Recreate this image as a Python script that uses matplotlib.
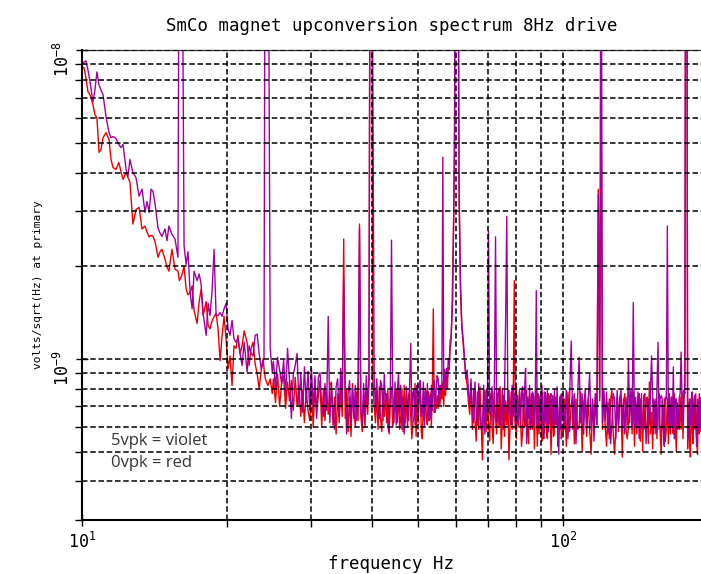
import matplotlib
matplotlib.use("Agg")
import matplotlib.pyplot as plt
from matplotlib.ticker import FixedLocator, FixedFormatter, NullFormatter

plt.rcParams['font.family'] = ['DejaVu Sans Mono']

# values, amplitude in units of 1e-10 V/sqrt(Hz)
# 700 = the line runs off the top of the axes

# 10 - 25 Hz
freq_a = [
    10.00, 10.10, 10.19, 10.29, 10.39, 10.54, 10.64, 10.74, 10.85, 10.95,
    11.06, 11.22, 11.38, 11.49, 11.60, 11.76, 11.93, 12.05, 12.17, 12.35,
    12.46, 12.58, 12.76, 12.95, 13.14, 13.33, 13.52, 13.65, 13.79, 13.92,
    14.05, 14.19, 14.39, 14.53, 14.66, 14.88, 15.02, 15.16, 15.38, 15.61,
    15.83, 15.94, 16.10, 16.30, 16.46, 16.61, 16.78, 16.94, 17.10, 17.35,
    17.52, 17.69, 17.86, 18.12, 18.29, 18.46, 18.63, 18.82, 19.00, 19.18,
    19.37, 19.55, 19.74, 19.93, 20.12, 20.31, 20.51, 20.70, 20.90, 21.10,
    21.31, 21.52, 21.73, 22.04, 22.25, 22.47, 22.68, 22.91, 23.13, 23.35,
    23.58, 23.81, 23.90, 24.05, 24.35, 24.62, 24.86,
]
red_a = [
    88.2, 87.5, 81.2, 73.2, 71.6, 66.5, 61.7, 60.3, 46.6, 47.6,
    52.0, 54.0, 51.3, 44.2, 41.6, 41.0, 43.2, 40.4, 38.1, 40.1,
    38.6, 37.3, 27.3, 30.4, 30.9, 26.3, 26.9, 25.7, 24.8, 25.1,
    24.9, 23.9, 21.3, 22.2, 22.6, 21.0, 19.8, 19.2, 22.6, 19.5,
    19.2, 17.9, 18.5, 19.9, 16.8, 16.1, 16.4, 17.2, 14.3, 13.0,
    15.3, 16.8, 13.8, 15.3, 12.8, 12.5, 13.2, 13.7, 14.0, 12.5,
    9.85, 11.8, 13.7, 11.6, 9.27, 10.2, 8.18, 11.0, 10.8, 11.9,
    10.4, 11.0, 12.3, 11.3, 9.50, 10.8, 11.3, 9.62, 8.92, 8.00,
    9.15, 10.0, 9.27, 8.60, 8.18, 8.60, 7.71,
]
violet_a = [
    89.5, 91.5, 92.2, 86.2, 78.8, 68.0, 74.3, 84.9, 77.1, 74.3,
    71.6, 60.8, 54.0, 52.0, 52.4, 51.7, 49.4, 48.3, 49.4, 41.0,
    38.9, 44.2, 40.1, 38.6, 33.6, 35.4, 29.8, 32.3, 29.8, 35.4,
    34.8, 31.6, 26.5, 25.5, 24.9, 26.3, 24.1, 26.9, 25.3, 24.4,
    21.3, 700, 700, 23.2, 20.2, 22.2, 16.4, 14.5, 19.2, 17.9,
    18.8, 17.4, 14.0, 11.9, 15.1, 13.8, 16.4, 22.6, 13.8, 13.8,
    14.1, 13.7, 14.5, 15.1, 12.5, 11.9, 13.3, 11.6, 11.3, 11.6,
    10.4, 9.50, 11.3, 9.07, 11.0, 10.4, 10.2, 11.9, 12.0, 10.4,
    9.27, 9.85, 10.0, 700, 700, 10.8, 9.07,
]

# 25 - 60 Hz
freq_b = [
    25.00, 25.25, 25.50, 25.75, 26.00, 26.25, 26.50, 26.75,
    27.00, 27.25, 27.50, 27.75, 28.00, 28.25, 28.50, 28.75,
    29.00, 29.25, 29.50, 29.75, 30.00, 30.25, 30.50, 30.75,
    31.00, 31.25, 31.50, 31.75, 32.00, 32.25, 32.50, 32.75,
    33.00, 33.25, 33.50, 33.75, 34.00, 34.25, 34.50, 34.75,
    35.00, 35.25, 35.50, 35.75, 36.00, 36.25, 36.50, 36.75,
    37.00, 37.25, 37.50, 37.75, 38.00, 38.25, 38.50, 38.75,
    39.00, 39.25, 39.50, 39.75, 40.00, 40.25, 40.50, 40.75,
    41.00, 41.25, 41.50, 41.75, 42.00, 42.25, 42.50, 42.75,
    43.00, 43.25, 43.50, 43.75, 44.00, 44.25, 44.50, 44.75,
    45.00, 45.25, 45.50, 45.75, 46.00, 46.25, 46.50, 46.75,
    47.00, 47.25, 47.50, 47.75, 48.00, 48.25, 48.50, 48.75,
    49.00, 49.25, 49.50, 49.75, 50.00, 50.25, 50.50, 50.75,
    51.00, 51.25, 51.50, 51.75, 52.00, 52.25, 52.50, 52.75,
    53.00, 53.25, 53.50, 53.75, 54.00, 54.25, 54.50, 54.75,
    55.00, 55.25, 55.50, 55.75, 56.00, 56.25, 56.50, 56.75,
    57.00, 57.25, 57.50, 57.75, 58.00, 58.25, 58.50, 58.75,
    59.00, 59.25, 59.50, 59.75,
]
red_b = [
    8.6, 7.2, 8.9, 7.0, 8.3, 8.8, 6.9, 8.4,
    7.3, 8.5, 6.8, 8.7, 7.0, 8.2, 6.5, 7.9,
    6.2, 7.9, 6.8, 6.3, 8.0, 6.0, 8.2, 6.7,
    7.6, 8.5, 6.0, 7.9, 6.3, 7.8, 6.6, 8.2,
    8.4, 6.1, 7.5, 5.7, 7.7, 6.2, 8.0, 6.5,
    24.4, 6.4, 7.9, 5.8, 7.5, 5.6, 8.3, 6.8,
    6.0, 7.8, 6.3, 27.3, 6.5, 5.8, 7.6, 6.0,
    8.0, 6.6, 8.3, 700, 700, 8.5, 7.0, 6.2,
    7.8, 5.9, 8.1, 6.4, 5.8, 7.9, 6.5, 7.7,
    6.2, 7.9, 5.7, 7.8, 8.1, 6.0, 6.4, 7.6,
    7.9, 6.2, 8.0, 5.9, 6.5, 8.0, 5.8, 8.2,
    6.2, 7.7, 6.0, 7.6, 7.9, 6.5, 5.5, 6.2,
    6.5, 8.3, 5.6, 7.6, 6.2, 7.8, 7.8, 5.8,
    5.5, 7.5, 6.3, 8.0, 6.4, 6.1, 7.8, 6.3,
    7.7, 6.0, 8.0, 14.5, 6.7, 7.3, 6.9, 7.6,
    6.9, 7.6, 7.1, 7.9, 7.4, 8.4, 7.0, 8.6,
    7.6, 8.9, 8.0, 9.4, 9.2, 10.8, 11.3, 14.0,
    19.5, 28.0, 47.6, 700,
]
violet_b = [
    9.8, 8.0, 10.1, 9.2, 8.3, 9.9, 7.6, 10.8,
    8.5, 6.4, 8.9, 9.5, 10.4, 7.1, 9.0, 6.7,
    9.4, 7.2, 9.1, 6.8, 9.3, 6.9, 8.8, 6.4,
    8.7, 9.0, 7.0, 6.5, 8.3, 6.8, 13.7, 6.2,
    8.2, 6.6, 5.9, 8.1, 8.6, 6.5, 9.3, 7.2,
    18.1, 7.9, 5.7, 7.7, 8.5, 6.1, 8.0, 6.4,
    8.2, 6.3, 8.7, 26.3, 6.9, 6.1, 8.3, 6.6,
    8.8, 7.1, 8.6, 700, 700, 72.6, 8.6, 6.8,
    8.6, 6.5, 6.4, 8.5, 8.2, 6.3, 8.9, 7.3,
    7.7, 6.0, 5.8, 7.5, 24.2, 7.9, 6.2, 8.4,
    6.1, 7.8, 9.0, 6.7, 8.2, 5.9, 7.5, 5.7,
    6.4, 8.1, 7.0, 6.3, 8.4, 11.2, 6.2, 7.8,
    7.9, 6.1, 7.7, 8.2, 6.4, 8.1, 8.5, 6.5,
    6.7, 8.4, 6.0, 7.9, 7.0, 8.3, 6.3, 7.6,
    6.4, 8.2, 6.8, 7.9, 8.5, 6.7, 8.1, 8.8,
    8.6, 7.1, 8.2, 7.7, 8.3, 44.9, 7.9, 9.2,
    8.0, 9.3, 8.7, 10.0, 9.6, 11.5, 11.6, 13.5,
    15.6, 30.0, 55.2, 700,
]

# 60 - 100 Hz
freq_c = [
    60.0, 60.4, 60.8, 61.2, 61.6, 62.0, 62.4, 62.8, 63.2, 63.6,
    64.0, 64.4, 64.8, 65.2, 65.6, 66.0, 66.4, 66.8, 67.2, 67.6,
    68.0, 68.4, 68.8, 69.2, 69.6, 70.0, 70.4, 70.8, 71.2, 71.6,
    72.0, 72.4, 72.8, 73.2, 73.6, 74.0, 74.4, 74.8, 75.2, 75.6,
    76.0, 76.4, 76.8, 77.2, 77.6, 78.0, 78.4, 78.8, 79.2, 79.6,
    80.0, 80.4, 80.8, 81.2, 81.6, 82.0, 82.4, 82.8, 83.2, 83.6,
    84.0, 84.4, 84.8, 85.2, 85.6, 86.0, 86.4, 86.8, 87.2, 87.6,
    88.0, 88.4, 88.8, 89.2, 89.6, 90.0, 90.4, 90.8, 91.2, 91.6,
    92.0, 92.4, 92.8, 93.2, 93.6, 94.0, 94.4, 94.8, 95.2, 95.6,
    96.0, 96.4, 96.8, 97.2, 97.6, 98.0, 98.4, 98.8, 99.2, 99.6,
]
red_c = [
    700, 700, 32.8, 16.8, 12.6, 11.2, 9.8, 8.9, 8.2, 7.2,
    6.6, 8.3, 5.9, 7.9, 6.4, 5.4, 7.8, 5.9, 8.1, 6.2,
    4.7, 7.3, 7.9, 5.8, 7.6, 6.2, 5.4, 7.7, 6.0, 5.3,
    7.8, 6.4, 5.7, 7.4, 6.0, 8.1, 5.1, 6.3, 7.6, 5.6,
    7.3, 6.1, 7.7, 4.7, 6.1, 7.8, 5.9, 7.5, 17.9, 6.3,
    5.5, 7.6, 6.0, 7.9, 6.4, 5.2, 5.8, 7.7, 6.0, 6.2,
    7.9, 5.8, 5.3, 7.6, 6.1, 7.7, 5.9, 7.4, 5.1, 7.5,
    7.9, 5.2, 7.3, 5.7, 7.6, 6.1, 5.4, 7.8, 5.7, 6.2,
    7.4, 5.8, 5.5, 7.7, 6.2, 7.6, 4.9, 6.0, 7.4, 5.6,
    5.9, 7.5, 6.1, 7.4, 5.2, 5.8, 7.2, 7.6, 5.5, 6.1,
]
violet_c = [
    700, 700, 38.1, 18.1, 13.0, 11.6, 10.1, 8.6, 9.2, 7.9,
    7.0, 8.6, 6.5, 6.2, 8.4, 6.8, 6.1, 8.3, 6.6, 5.9,
    5.9, 8.2, 5.7, 7.9, 6.3, 25.9, 6.6, 7.4, 8.1, 6.0,
    8.2, 24.8, 6.2, 7.7, 7.9, 6.1, 6.4, 8.0, 5.9, 7.8,
    13.8, 28.9, 6.6, 7.9, 6.4, 6.1, 8.2, 6.5, 7.7, 5.9,
    8.2, 6.2, 6.4, 7.8, 6.0, 7.7, 8.1, 6.3, 7.9, 9.3,
    5.3, 7.5, 6.4, 8.2, 5.9, 6.2, 7.8, 7.6, 6.1, 7.9,
    16.6, 5.9, 7.7, 6.1, 7.5, 6.4, 8.2, 6.0, 5.5, 7.8,
    7.7, 6.2, 7.9, 5.8, 6.2, 7.4, 7.7, 6.1, 7.6, 5.9,
    7.9, 6.4, 6.1, 8.1, 6.3, 4.9, 7.5, 5.9, 7.7, 6.3,
]

# 100 - 193.6 Hz
freq_d = [
    100.0, 100.8, 101.6, 102.4, 103.2, 104.0, 104.8, 105.6, 106.4, 107.2,
    108.0, 108.8, 109.6, 110.4, 111.2, 112.0, 112.8, 113.6, 114.4, 115.2,
    116.0, 116.8, 117.6, 118.4, 119.2, 120.0, 120.8, 121.6, 122.4, 123.2,
    124.0, 124.8, 125.6, 126.4, 127.2, 128.0, 128.8, 129.6, 130.4, 131.2,
    132.0, 132.8, 133.6, 134.4, 135.2, 136.0, 136.8, 137.6, 138.4, 139.2,
    140.0, 140.8, 141.6, 142.4, 143.2, 144.0, 144.8, 145.6, 146.4, 147.2,
    148.0, 148.8, 149.6, 150.4, 151.2, 152.0, 152.8, 153.6, 154.4, 155.2,
    156.0, 156.8, 157.6, 158.4, 159.2, 160.0, 160.8, 161.6, 162.4, 163.2,
    164.0, 164.8, 165.6, 166.4, 167.2, 168.0, 168.8, 169.6, 170.4, 171.2,
    172.0, 172.8, 173.6, 174.4, 175.2, 176.0, 176.8, 177.6, 178.4, 179.2,
    180.0, 180.8, 181.6, 182.4, 183.2, 184.0, 184.8, 185.6, 186.4, 187.2,
    188.0, 188.8, 189.6, 190.4, 191.2, 192.0, 192.8, 193.6,
]
red_d = [
    5.8, 7.4, 5.2, 7.8, 5.8, 7.1, 7.6, 5.3, 7.4, 5.9,
    6.0, 7.8, 5.0, 7.2, 7.7, 5.6, 7.4, 5.9, 4.9, 7.3,
    5.9, 7.7, 6.1, 35.4, 7.3, 76.0, 5.9, 7.7, 6.0, 5.2,
    7.2, 5.5, 7.4, 7.9, 5.7, 4.9, 6.0, 7.5, 5.8, 7.5,
    7.4, 4.8, 7.2, 7.7, 5.9, 5.5, 6.0, 7.4, 7.8, 5.7,
    7.8, 5.2, 7.2, 5.7, 7.3, 7.7, 5.4, 7.7, 5.0, 7.1,
    5.9, 7.4, 7.5, 5.3, 8.4, 5.7, 6.7, 5.1, 7.4, 6.0,
    7.4, 5.5, 7.2, 7.7, 5.8, 4.9, 7.3, 5.9, 7.4, 5.4,
    5.9, 7.4, 5.3, 7.2, 5.7, 7.5, 5.9, 5.7, 7.7, 6.1,
    5.0, 7.2, 6.1, 5.9, 7.5, 5.9, 7.8, 5.5, 7.3, 8.3,
    700, 700, 5.1, 7.2, 5.7, 4.8, 7.4, 5.9, 5.3, 7.1,
    5.9, 7.7, 5.6, 4.9, 7.2, 5.7, 7.5, 5.8,
]
violet_d = [
    7.7, 5.9, 7.9, 5.5, 7.4, 11.4, 5.9, 7.7, 5.3, 7.4,
    10.1, 6.2, 7.7, 5.7, 8.0, 6.1, 7.4, 8.9, 5.9, 7.4,
    5.4, 7.7, 6.1, 34.1, 7.5, 700, 6.2, 7.9, 6.3, 7.8,
    5.7, 7.4, 5.3, 6.2, 7.7, 7.4, 5.5, 7.9, 6.1, 7.4,
    7.9, 5.9, 7.4, 5.7, 7.5, 6.1, 10.0, 6.2, 7.9, 6.0,
    15.2, 5.9, 7.5, 6.1, 7.8, 5.5, 7.4, 6.0, 5.9, 7.6,
    7.7, 5.3, 6.2, 7.4, 6.1, 7.8, 10.2, 7.4, 5.7, 7.3,
    5.7, 7.9, 11.3, 5.9, 7.4, 7.6, 7.4, 5.8, 5.2, 7.5,
    7.4, 26.9, 6.2, 7.7, 5.9, 7.5, 6.1, 9.4, 5.5, 7.4,
    7.4, 5.9, 6.2, 7.4, 7.7, 10.5, 7.4, 6.1, 7.9, 7.7,
    700, 700, 6.2, 5.5, 7.4, 6.1, 7.4, 7.8, 5.9, 7.4,
    7.6, 6.1, 5.2, 7.4, 5.9, 7.7, 6.0, 7.4,
]

freq_hz = freq_a + freq_b + freq_c + freq_d
unit = 1e-10
red = [v * unit for v in red_a + red_b + red_c + red_d]
violet = [v * unit for v in violet_a + violet_b + violet_c + violet_d]

fig = plt.figure(figsize=(7.01, 5.74), dpi=100)
ax = fig.add_axes([82/701, 54/574, 619/701, 470/574])

ax.plot(freq_hz, red, color='#ee0000', lw=1.0)
ax.plot(freq_hz, violet, color='#a300a3', lw=1.0)

ax.set_xscale('log')
ax.set_yscale('log')
ax.set_xlim(10, 193.6)
ax.set_ylim(3e-10, 1e-8)

ax.xaxis.set_major_locator(FixedLocator([10, 100]))
ax.xaxis.set_major_formatter(FixedFormatter([r'$\mathregular{10^1}$', r'$\mathregular{10^2}$']))
ax.xaxis.set_minor_locator(FixedLocator([20, 30, 40, 50, 60, 70, 80, 90]))
ax.xaxis.set_minor_formatter(NullFormatter())

ax.yaxis.set_major_locator(FixedLocator([1e-9, 1e-8]))
ax.yaxis.set_major_formatter(FixedFormatter([r'$\mathregular{10^{-9}}$', r'$\mathregular{10^{-8}}$']))
ax.yaxis.set_minor_locator(FixedLocator([3e-10, 4e-10, 5e-10, 6e-10, 7e-10, 8e-10, 9e-10,
                                         2e-9, 3e-9, 4e-9, 5e-9, 6e-9, 7e-9, 8e-9, 9e-9]))
ax.yaxis.set_minor_formatter(NullFormatter())

ax.set_axisbelow(False)
ax.grid(True, which='both', color='black', linestyle=(0, (3.6, 1.8)), linewidth=1.1)

ax.tick_params(which='both', direction='out', length=5, width=1, labelsize=12)
ax.tick_params(axis='x', which='major', direction='inout', length=9, pad=4)
ax.tick_params(axis='y', which='major', direction='inout', length=9, labelrotation=90, pad=2)

ax.spines['right'].set_visible(False)
ax.spines['top'].set_color('#444444')
ax.spines['top'].set_linewidth(1.0)
ax.spines['left'].set_linewidth(1.5)
ax.spines['bottom'].set_linewidth(1.5)

ax.set_title('SmCo magnet upconversion spectrum 8Hz drive', fontsize=12.5, pad=14)
ax.set_xlabel('frequency Hz', fontsize=12.5, labelpad=2)
ax.set_ylabel('volts/sqrt(Hz) at primary', fontsize=8, labelpad=7)

ax.text(0.047, 0.168, '5vpk = violet', transform=ax.transAxes, fontsize=12,
        color='#333333', family='Open Sans', va='center')
ax.text(0.047, 0.121, '0vpk = red', transform=ax.transAxes, fontsize=12,
        color='#333333', family='Open Sans', va='center')

fig.savefig('out.png', dpi=100)
